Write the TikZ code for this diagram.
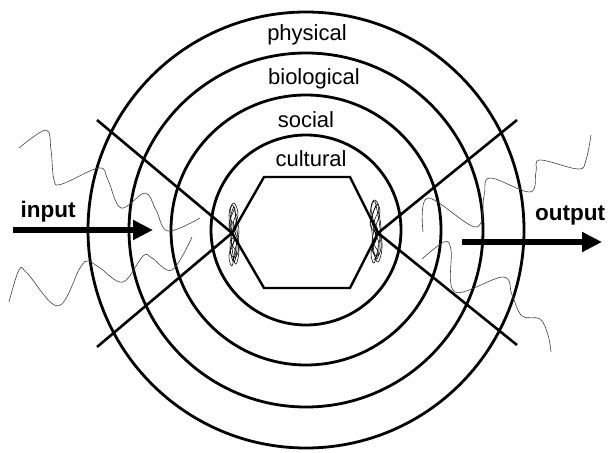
\documentclass[tikz,border=0pt]{standalone}
\usepackage{fontspec}
\setmainfont{Liberation Sans}
\usetikzlibrary{arrows.meta}
\begin{document}
\begin{tikzpicture}[x=1pt,y=-1pt,
  ring/.style={draw=black,line width=2.8pt},
  cross/.style={draw=black,line width=2.6pt},
  hexa/.style={draw=black,line width=2.4pt,line join=miter},
  wave/.style={draw=black!75,line width=0.6pt},
  scrib/.style={draw=black,line width=0.55pt},
  bigarrow/.style={line width=6pt,-{Triangle[length=20pt,width=19pt]}},
  lab/.style={font=\fontsize{22}{24}\selectfont,inner sep=0pt},
  io/.style={font=\bfseries\fontsize{22.5}{24}\selectfont,inner sep=0pt}]
\useasboundingbox (0,0) rectangle (609,452);
\coordinate (c) at (306,230);
% rings
\draw[ring] (c) circle[radius=218pt];
\draw[ring] (c) circle[radius=177pt];
\draw[ring] (c) circle[radius=135pt];
\draw[ring] (c) circle[radius=95pt];
% hexagon
\coordinate (hL) at (232,233);
\coordinate (hR) at (378,233);
\draw[hexa] (hL) -- (264,177) -- (350,177) -- (hR) -- (350,288) -- (264,288) -- cycle;
% cross lines
\coordinate (ulA) at (97,120);
\coordinate (llA) at (97,347);
\coordinate (urA) at (517,120);
\coordinate (lrA) at (517,345);
\draw[cross] (ulA) -- (hL) -- (llA);
\draw[cross] (urA) -- (hR) -- (lrA);
% waves
\draw[wave] plot[smooth,tension=0.6] coordinates {(19,148) (46,130) (51,150) (54,180) (62,184) (99,168) (108,180) (121,208) (145,193) (156,210) (168,231) (200,218)};
\draw[wave] plot[smooth,tension=0.6] coordinates {(9,302) (19,270) (27,273) (58,306) (80,268) (88,261) (100,268) (123,282) (143,256) (152,258) (172,270) (192,237)};
\draw[wave] plot[smooth,tension=0.6] coordinates {(591,135) (586,160) (578,169) (540,160) (536,172) (530,192) (490,178) (484,196) (476,227) (428,198) (423,232)};
\draw[wave] plot[smooth,tension=0.6] coordinates {(422,259) (444,242) (451,250) (455,292) (503,277) (512,295) (522,316) (540,319) (548,335) (551,352)};
% scribbles
\draw[scrib] plot[smooth cycle,tension=0.7] coordinates {(232,205) (235,212) (237,230) (239,250) (236,264) (233,255) (231,235) (229,215)};
\draw[scrib] plot[smooth cycle,tension=0.7] coordinates {(234,207) (230,222) (234,240) (229,255) (232,266) (235,250) (239,232) (236,218)};
\draw[scrib] plot[smooth cycle,tension=0.7] coordinates {(230,212) (234,203) (238,215) (233,232) (237,246) (234,262) (230,248) (232,228)};
\draw[scrib] plot[smooth,tension=0.7] coordinates {(234,210) (229,226) (235,238) (230,250) (235,258) (239,244) (233,226) (237,214)};
\draw[scrib] plot[smooth,tension=0.7] coordinates {(231,220) (236,232) (231,242) (236,252) (232,260)};
\draw[scrib] plot[smooth cycle,tension=0.7] coordinates {(374,201) (377,210) (380,228) (382,248) (378,262) (374,252) (372,232) (370,214)};
\draw[scrib] plot[smooth cycle,tension=0.7] coordinates {(377,204) (372,220) (376,238) (371,252) (374,263) (378,248) (381,230) (379,214)};
\draw[scrib] plot[smooth cycle,tension=0.7] coordinates {(371,208) (375,200) (380,212) (375,230) (379,244) (377,259) (372,246) (374,226)};
\draw[scrib] plot[smooth,tension=0.7] coordinates {(376,206) (370,224) (377,236) (372,249) (378,256) (381,242) (374,224) (379,212)};
\draw[scrib] plot[smooth,tension=0.7] coordinates {(373,220) (378,232) (373,242) (378,252) (374,260)};
% arrows
\coordinate (inA) at (13,230);
\coordinate (inB) at (153,230);
\coordinate (outA) at (462,242);
\coordinate (outB) at (602,242);
\draw[bigarrow] (inA) -- (inB);
\draw[bigarrow] (outA) -- (outB);
% labels
\node[lab] (physical) at (307,35) {physical};
\node[lab] (biological) at (314,79) {biological};
\node[lab] (social) at (306,120) {social};
\node[lab] (cultural) at (311,159) {cultural};
\node[io] (input) at (48,212) {input};
\node[io] (output) at (570,215) {output};
\end{tikzpicture}
\end{document}
